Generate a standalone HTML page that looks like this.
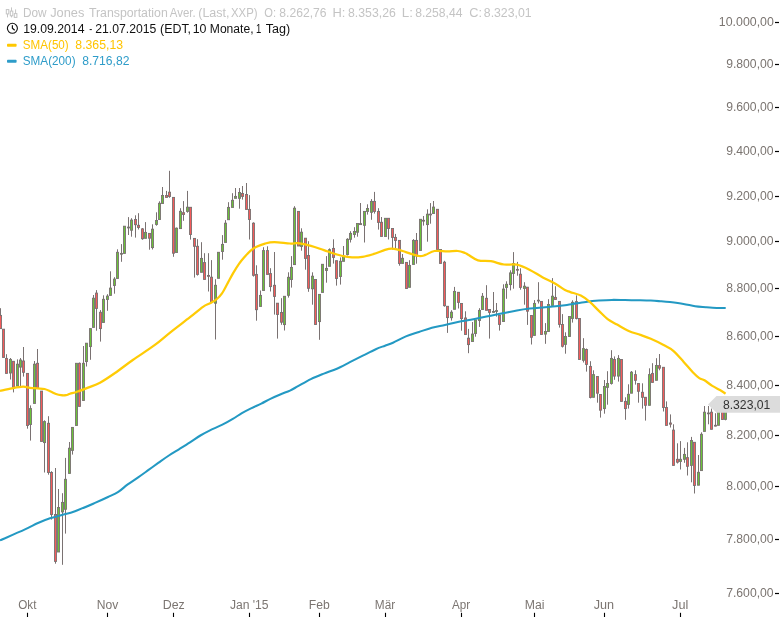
<!DOCTYPE html>
<html><head><meta charset="utf-8"><title>Dow Jones Transportation Aver.</title>
<style>
html,body{margin:0;padding:0;background:#fff;}
body{width:780px;height:617px;overflow:hidden;position:relative;font-family:"Liberation Sans",sans-serif;}
svg{position:absolute;left:0;top:0;}
text{font-family:"Liberation Sans",sans-serif;font-size:12.3px;}
.ax{fill:#7b7571;}
</style></head><body>
<svg width="780" height="617" viewBox="0 0 780 617" style="will-change:transform">
<defs><filter id="ga" filterUnits="userSpaceOnUse" x="0" y="0" width="780" height="617"><feOffset dx="0" dy="0"/></filter></defs>

<g stroke="#7a7272" stroke-width="1" shape-rendering="auto">
<path d="M0.50 308.2V328.6" fill="none"/>
<path d="M3.50 329.2V357.4" fill="none"/>
<path d="M6.50 354.2V373.4" fill="none"/>
<path d="M10.50 358.0V379.5" fill="none"/>
<path d="M13.50 361.3V392.4" fill="none"/>
<path d="M17.50 359.4V386.0" fill="none"/>
<path d="M20.50 358.0V386.0" fill="none"/>
<path d="M23.50 347.0V376.6" fill="none"/>
<path d="M27.50 373.4V428.7" fill="none"/>
<path d="M30.50 405.4V440.6" fill="none"/>
<path d="M34.50 361.0V403.4" fill="none"/>
<path d="M37.50 349.0V387.9" fill="none"/>
<path d="M41.50 391.1V441.4" fill="none"/>
<path d="M44.50 420.3V472.5" fill="none"/>
<path d="M48.50 416.2V474.7" fill="none"/>
<path d="M51.50 471.2V519.6" fill="none"/>
<path d="M55.50 468.0V563.7" fill="none"/>
<path d="M58.50 489.0V552.0" fill="none"/>
<path d="M62.50 493.2V564.8" fill="none"/>
<path d="M65.50 457.9V533.6" fill="none"/>
<path d="M69.50 442.0V473.4" fill="none"/>
<path d="M72.50 427.0V454.6" fill="none"/>
<path d="M76.50 363.3V425.5" fill="none"/>
<path d="M79.50 362.5V406.4" fill="none"/>
<path d="M83.50 346.0V400.5" fill="none"/>
<path d="M86.50 343.2V366.5" fill="none"/>
<path d="M90.50 328.6V359.8" fill="none"/>
<path d="M93.50 295.0V327.4" fill="none"/>
<path d="M96.50 290.1V330.7" fill="none"/>
<path d="M100.50 310.1V341.6" fill="none"/>
<path d="M103.50 295.3V322.5" fill="none"/>
<path d="M107.50 294.2V310.8" fill="none"/>
<path d="M110.50 271.3V295.4" fill="none"/>
<path d="M114.50 277.2V293.7" fill="none"/>
<path d="M117.50 249.3V278.5" fill="none"/>
<path d="M121.50 244.1V261.8" fill="none"/>
<path d="M124.50 226.2V253.4" fill="none"/>
<path d="M128.50 217.1V235.0" fill="none"/>
<path d="M131.50 218.2V236.7" fill="none"/>
<path d="M135.50 215.3V237.6" fill="none"/>
<path d="M138.50 213.2V229.5" fill="none"/>
<path d="M142.50 228.0V239.8" fill="none"/>
<path d="M145.50 222.1V238.3" fill="none"/>
<path d="M149.50 233.4V249.7" fill="none"/>
<path d="M152.50 224.3V249.5" fill="none"/>
<path d="M156.50 212.3V225.7" fill="none"/>
<path d="M159.50 201.3V219.5" fill="none"/>
<path d="M162.50 187.0V203.5" fill="none"/>
<path d="M166.50 190.9V197.4" fill="none"/>
<path d="M169.50 170.8V197.8" fill="none"/>
<path d="M173.50 197.4V256.8" fill="none"/>
<path d="M176.50 227.5V252.5" fill="none"/>
<path d="M180.50 208.2V228.6" fill="none"/>
<path d="M183.50 201.1V220.8" fill="none"/>
<path d="M187.50 190.9V212.7" fill="none"/>
<path d="M190.50 207.3V239.6" fill="none"/>
<path d="M194.50 238.3V277.6" fill="none"/>
<path d="M197.50 239.2V275.6" fill="none"/>
<path d="M201.50 242.2V272.3" fill="none"/>
<path d="M204.50 253.2V279.4" fill="none"/>
<path d="M208.50 253.2V291.5" fill="none"/>
<path d="M211.50 260.1V301.9" fill="none"/>
<path d="M215.50 279.2V339.5" fill="none"/>
<path d="M218.50 252.3V278.3" fill="none"/>
<path d="M222.50 235.1V259.7" fill="none"/>
<path d="M225.50 220.1V242.4" fill="none"/>
<path d="M228.50 202.2V219.7" fill="none"/>
<path d="M232.50 193.2V207.4" fill="none"/>
<path d="M235.50 188.0V198.3" fill="none"/>
<path d="M239.50 188.0V208.7" fill="none"/>
<path d="M242.50 186.0V199.6" fill="none"/>
<path d="M246.50 183.0V209.4" fill="none"/>
<path d="M249.50 195.1V239.5" fill="none"/>
<path d="M253.50 222.3V276.6" fill="none"/>
<path d="M256.50 265.3V320.7" fill="none"/>
<path d="M260.50 290.5V306.4" fill="none"/>
<path d="M263.50 247.2V290.5" fill="none"/>
<path d="M267.50 246.3V274.4" fill="none"/>
<path d="M270.50 268.2V291.5" fill="none"/>
<path d="M274.50 252.0V314.6" fill="none"/>
<path d="M277.50 303.2V338.6" fill="none"/>
<path d="M281.50 298.2V324.8" fill="none"/>
<path d="M284.50 296.3V330.5" fill="none"/>
<path d="M288.50 272.3V297.6" fill="none"/>
<path d="M291.50 256.1V287.6" fill="none"/>
<path d="M294.50 206.2V264.6" fill="none"/>
<path d="M298.50 211.4V246.0" fill="none"/>
<path d="M301.50 228.3V250.7" fill="none"/>
<path d="M305.50 238.2V269.7" fill="none"/>
<path d="M308.50 241.2V291.8" fill="none"/>
<path d="M312.50 272.3V304.7" fill="none"/>
<path d="M315.50 279.5V324.5" fill="none"/>
<path d="M319.50 294.4V339.8" fill="none"/>
<path d="M322.50 264.3V292.4" fill="none"/>
<path d="M326.50 256.1V282.7" fill="none"/>
<path d="M329.50 248.4V266.3" fill="none"/>
<path d="M333.50 239.3V263.6" fill="none"/>
<path d="M336.50 260.7V285.6" fill="none"/>
<path d="M340.50 257.4V284.6" fill="none"/>
<path d="M343.50 246.0V261.3" fill="none"/>
<path d="M347.50 238.2V255.5" fill="none"/>
<path d="M350.50 231.2V242.5" fill="none"/>
<path d="M354.50 227.2V237.7" fill="none"/>
<path d="M357.50 223.5V236.7" fill="none"/>
<path d="M360.50 203.0V224.6" fill="none"/>
<path d="M364.50 211.4V242.5" fill="none"/>
<path d="M367.50 204.3V214.6" fill="none"/>
<path d="M371.50 199.1V219.8" fill="none"/>
<path d="M374.50 191.9V213.6" fill="none"/>
<path d="M378.50 208.2V229.6" fill="none"/>
<path d="M381.50 217.0V236.4" fill="none"/>
<path d="M385.50 218.3V236.5" fill="none"/>
<path d="M388.50 218.3V239.5" fill="none"/>
<path d="M392.50 228.5V249.5" fill="none"/>
<path d="M395.50 233.9V248.2" fill="none"/>
<path d="M399.50 240.4V265.7" fill="none"/>
<path d="M402.50 254.0V263.4" fill="none"/>
<path d="M406.50 262.4V288.5" fill="none"/>
<path d="M409.50 260.2V287.3" fill="none"/>
<path d="M413.50 239.1V264.4" fill="none"/>
<path d="M416.50 233.0V263.7" fill="none"/>
<path d="M420.50 219.3V250.4" fill="none"/>
<path d="M423.50 216.0V225.6" fill="none"/>
<path d="M427.50 209.3V241.7" fill="none"/>
<path d="M430.50 203.1V223.7" fill="none"/>
<path d="M433.50 201.0V213.5" fill="none"/>
<path d="M437.50 209.3V249.5" fill="none"/>
<path d="M440.50 249.5V263.4" fill="none"/>
<path d="M444.50 260.8V306.7" fill="none"/>
<path d="M447.50 306.3V332.9" fill="none"/>
<path d="M451.50 310.2V320.6" fill="none"/>
<path d="M454.50 286.9V309.3" fill="none"/>
<path d="M458.50 292.3V308.5" fill="none"/>
<path d="M461.50 303.5V330.7" fill="none"/>
<path d="M465.50 311.3V334.5" fill="none"/>
<path d="M468.50 328.9V353.2" fill="none"/>
<path d="M472.50 322.0V341.5" fill="none"/>
<path d="M475.50 320.0V336.7" fill="none"/>
<path d="M479.50 308.2V326.9" fill="none"/>
<path d="M482.50 293.0V309.5" fill="none"/>
<path d="M486.50 285.2V310.3" fill="none"/>
<path d="M489.50 309.5V338.6" fill="none"/>
<path d="M493.50 292.0V312.7" fill="none"/>
<path d="M496.50 303.0V316.6" fill="none"/>
<path d="M499.50 315.0V330.6" fill="none"/>
<path d="M503.50 284.3V321.5" fill="none"/>
<path d="M506.50 281.3V298.8" fill="none"/>
<path d="M510.50 270.3V290.4" fill="none"/>
<path d="M513.50 252.1V288.7" fill="none"/>
<path d="M517.50 261.9V275.7" fill="none"/>
<path d="M520.50 268.3V289.7" fill="none"/>
<path d="M524.50 282.2V304.7" fill="none"/>
<path d="M527.50 287.2V324.9" fill="none"/>
<path d="M531.50 315.5V344.5" fill="none"/>
<path d="M534.50 300.1V335.4" fill="none"/>
<path d="M538.50 282.2V303.5" fill="none"/>
<path d="M541.50 301.4V334.5" fill="none"/>
<path d="M545.50 323.1V343.8" fill="none"/>
<path d="M548.50 299.2V331.5" fill="none"/>
<path d="M552.50 278.1V305.4" fill="none"/>
<path d="M555.50 286.2V299.5" fill="none"/>
<path d="M559.50 301.3V327.6" fill="none"/>
<path d="M562.50 314.1V347.5" fill="none"/>
<path d="M565.50 332.3V353.7" fill="none"/>
<path d="M569.50 316.5V336.5" fill="none"/>
<path d="M572.50 300.3V322.6" fill="none"/>
<path d="M576.50 295.4V319.4" fill="none"/>
<path d="M579.50 318.5V359.5" fill="none"/>
<path d="M583.50 338.2V362.5" fill="none"/>
<path d="M586.50 348.5V371.6" fill="none"/>
<path d="M590.50 361.2V398.4" fill="none"/>
<path d="M593.50 370.3V397.3" fill="none"/>
<path d="M597.50 376.5V402.7" fill="none"/>
<path d="M600.50 394.5V417.6" fill="none"/>
<path d="M604.50 380.0V413.7" fill="none"/>
<path d="M607.50 371.2V404.7" fill="none"/>
<path d="M611.50 350.2V384.6" fill="none"/>
<path d="M614.50 356.4V379.8" fill="none"/>
<path d="M618.50 355.1V381.6" fill="none"/>
<path d="M621.50 359.5V401.4" fill="none"/>
<path d="M625.50 397.3V419.8" fill="none"/>
<path d="M628.50 384.3V408.6" fill="none"/>
<path d="M631.50 371.0V393.2" fill="none"/>
<path d="M635.50 370.3V384.6" fill="none"/>
<path d="M638.50 383.5V402.7" fill="none"/>
<path d="M642.50 383.3V408.6" fill="none"/>
<path d="M645.50 397.3V420.6" fill="none"/>
<path d="M649.50 368.3V405.3" fill="none"/>
<path d="M652.50 363.2V382.4" fill="none"/>
<path d="M656.50 358.2V380.3" fill="none"/>
<path d="M659.50 354.0V370.3" fill="none"/>
<path d="M663.50 367.3V411.5" fill="none"/>
<path d="M666.50 401.4V425.4" fill="none"/>
<path d="M670.50 414.4V427.5" fill="none"/>
<path d="M673.50 424.3V465.4" fill="none"/>
<path d="M677.50 443.3V463.5" fill="none"/>
<path d="M680.50 441.1V469.5" fill="none"/>
<path d="M684.50 447.9V462.8" fill="none"/>
<path d="M687.50 442.3V475.5" fill="none"/>
<path d="M691.50 436.9V482.3" fill="none"/>
<path d="M694.50 442.3V493.5" fill="none"/>
<path d="M698.50 455.0V485.2" fill="none"/>
<path d="M701.50 432.3V470.6" fill="none"/>
<path d="M704.50 406.0V431.4" fill="none"/>
<path d="M708.50 406.0V424.3" fill="none"/>
<path d="M711.50 408.6V429.3" fill="none"/>
<path d="M715.50 413.2V426.4" fill="none"/>
<path d="M718.50 406.0V425.3" fill="none"/>
<path d="M722.50 400.0V419.5" fill="none"/>
<path d="M725.50 396.5V420.3" fill="none"/>
<rect x="-0.55" y="315.4" width="2.1" height="13.2" fill="#f45b5b" stroke-width="0.9"/>
<rect x="2.45" y="329.2" width="2.1" height="28.2" fill="#f45b5b" stroke-width="0.9"/>
<rect x="5.45" y="358.4" width="2.1" height="15.0" fill="#f45b5b" stroke-width="0.9"/>
<rect x="9.45" y="359.4" width="2.1" height="13.6" fill="#6bc23a" stroke-width="0.9"/>
<rect x="12.45" y="361.3" width="2.1" height="25.9" fill="#f45b5b" stroke-width="0.9"/>
<rect x="16.45" y="364.2" width="2.1" height="21.8" fill="#6bc23a" stroke-width="0.9"/>
<rect x="19.45" y="360.0" width="2.1" height="7.1" fill="#6bc23a" stroke-width="0.9"/>
<rect x="22.45" y="361.0" width="2.1" height="11.3" fill="#f45b5b" stroke-width="0.9"/>
<rect x="26.45" y="373.4" width="2.1" height="52.1" fill="#f45b5b" stroke-width="0.9"/>
<rect x="29.45" y="408.6" width="2.1" height="15.9" fill="#6bc23a" stroke-width="0.9"/>
<rect x="33.45" y="364.2" width="2.1" height="39.2" fill="#6bc23a" stroke-width="0.9"/>
<rect x="36.45" y="363.3" width="2.1" height="24.6" fill="#f45b5b" stroke-width="0.9"/>
<rect x="40.45" y="391.1" width="2.1" height="50.3" fill="#f45b5b" stroke-width="0.9"/>
<rect x="43.45" y="421.6" width="2.1" height="21.0" fill="#6bc23a" stroke-width="0.9"/>
<rect x="47.45" y="423.3" width="2.1" height="49.2" fill="#f45b5b" stroke-width="0.9"/>
<rect x="50.45" y="472.5" width="2.1" height="42.0" fill="#f45b5b" stroke-width="0.9"/>
<rect x="54.45" y="514.5" width="2.1" height="46.9" fill="#f45b5b" stroke-width="0.9"/>
<rect x="57.45" y="507.5" width="2.1" height="44.5" fill="#6bc23a" stroke-width="0.9"/>
<rect x="61.45" y="502.4" width="2.1" height="9.5" fill="#6bc23a" stroke-width="0.9"/>
<rect x="64.45" y="479.3" width="2.1" height="30.0" fill="#6bc23a" stroke-width="0.9"/>
<rect x="68.45" y="448.2" width="2.1" height="25.2" fill="#6bc23a" stroke-width="0.9"/>
<rect x="71.45" y="427.4" width="2.1" height="23.0" fill="#6bc23a" stroke-width="0.9"/>
<rect x="75.45" y="363.3" width="2.1" height="62.2" fill="#6bc23a" stroke-width="0.9"/>
<rect x="78.45" y="363.3" width="2.1" height="43.1" fill="#f45b5b" stroke-width="0.9"/>
<rect x="82.45" y="363.3" width="2.1" height="37.2" fill="#6bc23a" stroke-width="0.9"/>
<rect x="85.45" y="343.2" width="2.1" height="18.4" fill="#6bc23a" stroke-width="0.9"/>
<rect x="89.45" y="328.6" width="2.1" height="18.0" fill="#6bc23a" stroke-width="0.9"/>
<rect x="92.45" y="298.2" width="2.1" height="29.2" fill="#6bc23a" stroke-width="0.9"/>
<rect x="95.45" y="293.1" width="2.1" height="15.4" fill="#f45b5b" stroke-width="0.9"/>
<rect x="99.45" y="312.3" width="2.1" height="16.3" fill="#f45b5b" stroke-width="0.9"/>
<rect x="102.45" y="299.3" width="2.1" height="23.2" fill="#6bc23a" stroke-width="0.9"/>
<rect x="106.45" y="296.1" width="2.1" height="3.4" fill="#6bc23a" stroke-width="0.9"/>
<rect x="109.45" y="288.1" width="2.1" height="7.3" fill="#6bc23a" stroke-width="0.9"/>
<rect x="113.45" y="279.1" width="2.1" height="6.4" fill="#6bc23a" stroke-width="0.9"/>
<rect x="116.45" y="252.3" width="2.1" height="26.2" fill="#6bc23a" stroke-width="0.9"/>
<rect x="120.45" y="253.4" width="2.1" height="0.8" fill="#6bc23a" stroke-width="0.9"/>
<rect x="123.45" y="226.2" width="2.1" height="27.2" fill="#6bc23a" stroke-width="0.9"/>
<rect x="127.45" y="227.1" width="2.1" height="0.8" fill="#6bc23a" stroke-width="0.9"/>
<rect x="130.45" y="220.1" width="2.1" height="10.1" fill="#6bc23a" stroke-width="0.9"/>
<rect x="134.45" y="219.5" width="2.1" height="5.2" fill="#f45b5b" stroke-width="0.9"/>
<rect x="137.45" y="225.3" width="2.1" height="2.2" fill="#f45b5b" stroke-width="0.9"/>
<rect x="141.45" y="228.9" width="2.1" height="9.8" fill="#f45b5b" stroke-width="0.9"/>
<rect x="144.45" y="232.4" width="2.1" height="5.9" fill="#6bc23a" stroke-width="0.9"/>
<rect x="148.45" y="233.4" width="2.1" height="4.8" fill="#f45b5b" stroke-width="0.9"/>
<rect x="151.45" y="229.2" width="2.1" height="18.4" fill="#6bc23a" stroke-width="0.9"/>
<rect x="155.45" y="220.5" width="2.1" height="3.9" fill="#6bc23a" stroke-width="0.9"/>
<rect x="158.45" y="203.3" width="2.1" height="16.2" fill="#6bc23a" stroke-width="0.9"/>
<rect x="161.45" y="195.5" width="2.1" height="8.0" fill="#6bc23a" stroke-width="0.9"/>
<rect x="165.45" y="195.5" width="2.1" height="1.9" fill="#f45b5b" stroke-width="0.9"/>
<rect x="168.45" y="192.2" width="2.1" height="4.3" fill="#f45b5b" stroke-width="0.9"/>
<rect x="172.45" y="197.4" width="2.1" height="55.8" fill="#f45b5b" stroke-width="0.9"/>
<rect x="175.45" y="228.2" width="2.1" height="24.3" fill="#6bc23a" stroke-width="0.9"/>
<rect x="179.45" y="211.3" width="2.1" height="17.3" fill="#6bc23a" stroke-width="0.9"/>
<rect x="182.45" y="212.7" width="2.1" height="1.8" fill="#f45b5b" stroke-width="0.9"/>
<rect x="186.45" y="207.2" width="2.1" height="4.2" fill="#6bc23a" stroke-width="0.9"/>
<rect x="189.45" y="207.3" width="2.1" height="27.2" fill="#f45b5b" stroke-width="0.9"/>
<rect x="193.45" y="238.4" width="2.1" height="7.9" fill="#f45b5b" stroke-width="0.9"/>
<rect x="196.45" y="246.3" width="2.1" height="28.1" fill="#f45b5b" stroke-width="0.9"/>
<rect x="200.45" y="258.4" width="2.1" height="13.9" fill="#6bc23a" stroke-width="0.9"/>
<rect x="203.45" y="262.6" width="2.1" height="16.8" fill="#f45b5b" stroke-width="0.9"/>
<rect x="207.45" y="275.5" width="2.1" height="0.8" fill="#f45b5b" stroke-width="0.9"/>
<rect x="210.45" y="277.2" width="2.1" height="24.7" fill="#f45b5b" stroke-width="0.9"/>
<rect x="214.45" y="285.3" width="2.1" height="17.9" fill="#6bc23a" stroke-width="0.9"/>
<rect x="217.45" y="252.3" width="2.1" height="26.0" fill="#6bc23a" stroke-width="0.9"/>
<rect x="221.45" y="244.4" width="2.1" height="7.1" fill="#6bc23a" stroke-width="0.9"/>
<rect x="224.45" y="223.2" width="2.1" height="19.2" fill="#6bc23a" stroke-width="0.9"/>
<rect x="227.45" y="207.4" width="2.1" height="12.3" fill="#6bc23a" stroke-width="0.9"/>
<rect x="231.45" y="200.3" width="2.1" height="7.1" fill="#6bc23a" stroke-width="0.9"/>
<rect x="234.45" y="196.4" width="2.1" height="1.9" fill="#6bc23a" stroke-width="0.9"/>
<rect x="238.45" y="192.5" width="2.1" height="5.8" fill="#6bc23a" stroke-width="0.9"/>
<rect x="241.45" y="193.5" width="2.1" height="2.9" fill="#f45b5b" stroke-width="0.9"/>
<rect x="245.45" y="194.5" width="2.1" height="14.9" fill="#f45b5b" stroke-width="0.9"/>
<rect x="248.45" y="209.4" width="2.1" height="10.1" fill="#f45b5b" stroke-width="0.9"/>
<rect x="252.45" y="223.2" width="2.1" height="52.1" fill="#f45b5b" stroke-width="0.9"/>
<rect x="255.45" y="274.4" width="2.1" height="35.3" fill="#f45b5b" stroke-width="0.9"/>
<rect x="259.45" y="295.4" width="2.1" height="11.0" fill="#6bc23a" stroke-width="0.9"/>
<rect x="262.45" y="250.6" width="2.1" height="39.9" fill="#6bc23a" stroke-width="0.9"/>
<rect x="266.45" y="250.6" width="2.1" height="23.8" fill="#f45b5b" stroke-width="0.9"/>
<rect x="269.45" y="273.6" width="2.1" height="13.0" fill="#f45b5b" stroke-width="0.9"/>
<rect x="273.45" y="285.3" width="2.1" height="11.1" fill="#f45b5b" stroke-width="0.9"/>
<rect x="276.45" y="303.2" width="2.1" height="11.3" fill="#f45b5b" stroke-width="0.9"/>
<rect x="280.45" y="312.5" width="2.1" height="9.7" fill="#f45b5b" stroke-width="0.9"/>
<rect x="283.45" y="296.3" width="2.1" height="28.3" fill="#6bc23a" stroke-width="0.9"/>
<rect x="287.45" y="277.3" width="2.1" height="18.0" fill="#6bc23a" stroke-width="0.9"/>
<rect x="290.45" y="267.4" width="2.1" height="12.1" fill="#6bc23a" stroke-width="0.9"/>
<rect x="293.45" y="208.2" width="2.1" height="56.4" fill="#6bc23a" stroke-width="0.9"/>
<rect x="297.45" y="211.4" width="2.1" height="34.6" fill="#f45b5b" stroke-width="0.9"/>
<rect x="300.45" y="232.2" width="2.1" height="14.2" fill="#6bc23a" stroke-width="0.9"/>
<rect x="304.45" y="238.2" width="2.1" height="20.2" fill="#f45b5b" stroke-width="0.9"/>
<rect x="307.45" y="255.5" width="2.1" height="32.8" fill="#f45b5b" stroke-width="0.9"/>
<rect x="311.45" y="276.2" width="2.1" height="12.6" fill="#6bc23a" stroke-width="0.9"/>
<rect x="314.45" y="279.5" width="2.1" height="45.0" fill="#f45b5b" stroke-width="0.9"/>
<rect x="318.45" y="294.4" width="2.1" height="27.2" fill="#6bc23a" stroke-width="0.9"/>
<rect x="321.45" y="264.3" width="2.1" height="28.1" fill="#6bc23a" stroke-width="0.9"/>
<rect x="325.45" y="268.4" width="2.1" height="2.0" fill="#6bc23a" stroke-width="0.9"/>
<rect x="328.45" y="249.7" width="2.1" height="16.6" fill="#6bc23a" stroke-width="0.9"/>
<rect x="332.45" y="248.4" width="2.1" height="9.0" fill="#f45b5b" stroke-width="0.9"/>
<rect x="335.45" y="260.7" width="2.1" height="17.8" fill="#f45b5b" stroke-width="0.9"/>
<rect x="339.45" y="261.3" width="2.1" height="15.2" fill="#6bc23a" stroke-width="0.9"/>
<rect x="342.45" y="256.1" width="2.1" height="5.2" fill="#6bc23a" stroke-width="0.9"/>
<rect x="346.45" y="239.3" width="2.1" height="15.2" fill="#6bc23a" stroke-width="0.9"/>
<rect x="349.45" y="233.4" width="2.1" height="5.9" fill="#6bc23a" stroke-width="0.9"/>
<rect x="353.45" y="231.5" width="2.1" height="3.0" fill="#6bc23a" stroke-width="0.9"/>
<rect x="356.45" y="223.5" width="2.1" height="8.7" fill="#6bc23a" stroke-width="0.9"/>
<rect x="359.45" y="223.6" width="2.1" height="1.0" fill="#6bc23a" stroke-width="0.9"/>
<rect x="363.45" y="211.4" width="2.1" height="13.9" fill="#6bc23a" stroke-width="0.9"/>
<rect x="366.45" y="208.5" width="2.1" height="2.9" fill="#6bc23a" stroke-width="0.9"/>
<rect x="370.45" y="201.4" width="2.1" height="10.9" fill="#6bc23a" stroke-width="0.9"/>
<rect x="373.45" y="201.4" width="2.1" height="10.0" fill="#f45b5b" stroke-width="0.9"/>
<rect x="377.45" y="211.4" width="2.1" height="11.0" fill="#f45b5b" stroke-width="0.9"/>
<rect x="380.45" y="222.3" width="2.1" height="14.1" fill="#f45b5b" stroke-width="0.9"/>
<rect x="384.45" y="218.3" width="2.1" height="18.2" fill="#6bc23a" stroke-width="0.9"/>
<rect x="387.45" y="218.3" width="2.1" height="10.2" fill="#f45b5b" stroke-width="0.9"/>
<rect x="391.45" y="228.5" width="2.1" height="8.9" fill="#f45b5b" stroke-width="0.9"/>
<rect x="394.45" y="237.4" width="2.1" height="3.0" fill="#f45b5b" stroke-width="0.9"/>
<rect x="398.45" y="240.4" width="2.1" height="23.1" fill="#f45b5b" stroke-width="0.9"/>
<rect x="401.45" y="258.3" width="2.1" height="5.1" fill="#6bc23a" stroke-width="0.9"/>
<rect x="405.45" y="262.4" width="2.1" height="26.1" fill="#f45b5b" stroke-width="0.9"/>
<rect x="408.45" y="265.4" width="2.1" height="21.9" fill="#6bc23a" stroke-width="0.9"/>
<rect x="412.45" y="240.4" width="2.1" height="24.0" fill="#6bc23a" stroke-width="0.9"/>
<rect x="415.45" y="240.4" width="2.1" height="15.6" fill="#f45b5b" stroke-width="0.9"/>
<rect x="419.45" y="219.3" width="2.1" height="31.1" fill="#6bc23a" stroke-width="0.9"/>
<rect x="422.45" y="220.3" width="2.1" height="0.8" fill="#6bc23a" stroke-width="0.9"/>
<rect x="426.45" y="214.2" width="2.1" height="10.4" fill="#6bc23a" stroke-width="0.9"/>
<rect x="429.45" y="214.1" width="2.1" height="0.8" fill="#6bc23a" stroke-width="0.9"/>
<rect x="432.45" y="207.1" width="2.1" height="6.4" fill="#6bc23a" stroke-width="0.9"/>
<rect x="436.45" y="209.3" width="2.1" height="40.2" fill="#f45b5b" stroke-width="0.9"/>
<rect x="439.45" y="249.5" width="2.1" height="13.9" fill="#f45b5b" stroke-width="0.9"/>
<rect x="443.45" y="262.2" width="2.1" height="43.5" fill="#f45b5b" stroke-width="0.9"/>
<rect x="446.45" y="306.3" width="2.1" height="11.3" fill="#f45b5b" stroke-width="0.9"/>
<rect x="450.45" y="312.2" width="2.1" height="5.5" fill="#6bc23a" stroke-width="0.9"/>
<rect x="453.45" y="291.4" width="2.1" height="17.9" fill="#6bc23a" stroke-width="0.9"/>
<rect x="457.45" y="292.3" width="2.1" height="10.1" fill="#f45b5b" stroke-width="0.9"/>
<rect x="460.45" y="303.5" width="2.1" height="15.1" fill="#f45b5b" stroke-width="0.9"/>
<rect x="464.45" y="318.0" width="2.1" height="16.5" fill="#f45b5b" stroke-width="0.9"/>
<rect x="467.45" y="338.2" width="2.1" height="6.4" fill="#f45b5b" stroke-width="0.9"/>
<rect x="471.45" y="334.1" width="2.1" height="7.4" fill="#6bc23a" stroke-width="0.9"/>
<rect x="474.45" y="320.0" width="2.1" height="13.5" fill="#6bc23a" stroke-width="0.9"/>
<rect x="478.45" y="310.4" width="2.1" height="10.1" fill="#6bc23a" stroke-width="0.9"/>
<rect x="481.45" y="296.3" width="2.1" height="13.2" fill="#6bc23a" stroke-width="0.9"/>
<rect x="485.45" y="298.3" width="2.1" height="12.0" fill="#f45b5b" stroke-width="0.9"/>
<rect x="488.45" y="309.5" width="2.1" height="2.9" fill="#f45b5b" stroke-width="0.9"/>
<rect x="492.45" y="311.5" width="2.1" height="0.8" fill="#6bc23a" stroke-width="0.9"/>
<rect x="495.45" y="310.6" width="2.1" height="0.8" fill="#6bc23a" stroke-width="0.9"/>
<rect x="498.45" y="315.3" width="2.1" height="9.1" fill="#f45b5b" stroke-width="0.9"/>
<rect x="502.45" y="289.1" width="2.1" height="32.4" fill="#6bc23a" stroke-width="0.9"/>
<rect x="505.45" y="284.3" width="2.1" height="3.1" fill="#6bc23a" stroke-width="0.9"/>
<rect x="509.45" y="272.9" width="2.1" height="11.7" fill="#6bc23a" stroke-width="0.9"/>
<rect x="512.45" y="263.5" width="2.1" height="10.0" fill="#6bc23a" stroke-width="0.9"/>
<rect x="516.45" y="269.4" width="2.1" height="0.8" fill="#f45b5b" stroke-width="0.9"/>
<rect x="519.45" y="274.2" width="2.1" height="13.2" fill="#f45b5b" stroke-width="0.9"/>
<rect x="523.45" y="286.2" width="2.1" height="2.2" fill="#6bc23a" stroke-width="0.9"/>
<rect x="526.45" y="287.2" width="2.1" height="24.0" fill="#f45b5b" stroke-width="0.9"/>
<rect x="530.45" y="315.5" width="2.1" height="21.8" fill="#f45b5b" stroke-width="0.9"/>
<rect x="533.45" y="303.4" width="2.1" height="32.0" fill="#6bc23a" stroke-width="0.9"/>
<rect x="537.45" y="300.2" width="2.1" height="0.8" fill="#6bc23a" stroke-width="0.9"/>
<rect x="540.45" y="301.4" width="2.1" height="33.1" fill="#f45b5b" stroke-width="0.9"/>
<rect x="544.45" y="331.5" width="2.1" height="2.6" fill="#6bc23a" stroke-width="0.9"/>
<rect x="547.45" y="304.5" width="2.1" height="27.0" fill="#6bc23a" stroke-width="0.9"/>
<rect x="551.45" y="296.2" width="2.1" height="9.2" fill="#6bc23a" stroke-width="0.9"/>
<rect x="554.45" y="297.4" width="2.1" height="2.1" fill="#f45b5b" stroke-width="0.9"/>
<rect x="558.45" y="301.4" width="2.1" height="23.0" fill="#f45b5b" stroke-width="0.9"/>
<rect x="561.45" y="324.5" width="2.1" height="21.8" fill="#f45b5b" stroke-width="0.9"/>
<rect x="564.45" y="336.5" width="2.1" height="7.9" fill="#6bc23a" stroke-width="0.9"/>
<rect x="568.45" y="316.5" width="2.1" height="20.0" fill="#6bc23a" stroke-width="0.9"/>
<rect x="571.45" y="302.3" width="2.1" height="16.2" fill="#6bc23a" stroke-width="0.9"/>
<rect x="575.45" y="301.6" width="2.1" height="16.9" fill="#f45b5b" stroke-width="0.9"/>
<rect x="578.45" y="318.5" width="2.1" height="41.0" fill="#f45b5b" stroke-width="0.9"/>
<rect x="582.45" y="348.6" width="2.1" height="11.7" fill="#6bc23a" stroke-width="0.9"/>
<rect x="585.45" y="349.5" width="2.1" height="15.0" fill="#f45b5b" stroke-width="0.9"/>
<rect x="589.45" y="366.4" width="2.1" height="31.1" fill="#f45b5b" stroke-width="0.9"/>
<rect x="592.45" y="374.6" width="2.1" height="22.7" fill="#6bc23a" stroke-width="0.9"/>
<rect x="596.45" y="376.5" width="2.1" height="16.7" fill="#f45b5b" stroke-width="0.9"/>
<rect x="599.45" y="394.5" width="2.1" height="15.7" fill="#f45b5b" stroke-width="0.9"/>
<rect x="603.45" y="386.5" width="2.1" height="22.1" fill="#6bc23a" stroke-width="0.9"/>
<rect x="606.45" y="383.5" width="2.1" height="3.9" fill="#6bc23a" stroke-width="0.9"/>
<rect x="610.45" y="358.4" width="2.1" height="25.1" fill="#6bc23a" stroke-width="0.9"/>
<rect x="613.45" y="359.5" width="2.1" height="16.6" fill="#f45b5b" stroke-width="0.9"/>
<rect x="617.45" y="358.4" width="2.1" height="17.7" fill="#6bc23a" stroke-width="0.9"/>
<rect x="620.45" y="359.5" width="2.1" height="41.9" fill="#f45b5b" stroke-width="0.9"/>
<rect x="624.45" y="401.4" width="2.1" height="7.2" fill="#f45b5b" stroke-width="0.9"/>
<rect x="627.45" y="394.3" width="2.1" height="10.1" fill="#6bc23a" stroke-width="0.9"/>
<rect x="630.45" y="372.2" width="2.1" height="21.0" fill="#6bc23a" stroke-width="0.9"/>
<rect x="634.45" y="374.6" width="2.1" height="5.7" fill="#f45b5b" stroke-width="0.9"/>
<rect x="637.45" y="383.5" width="2.1" height="7.8" fill="#f45b5b" stroke-width="0.9"/>
<rect x="641.45" y="392.3" width="2.1" height="5.0" fill="#f45b5b" stroke-width="0.9"/>
<rect x="644.45" y="397.3" width="2.1" height="8.0" fill="#f45b5b" stroke-width="0.9"/>
<rect x="648.45" y="374.6" width="2.1" height="30.7" fill="#6bc23a" stroke-width="0.9"/>
<rect x="651.45" y="373.4" width="2.1" height="9.0" fill="#f45b5b" stroke-width="0.9"/>
<rect x="655.45" y="365.5" width="2.1" height="14.8" fill="#6bc23a" stroke-width="0.9"/>
<rect x="658.45" y="365.6" width="2.1" height="2.6" fill="#f45b5b" stroke-width="0.9"/>
<rect x="662.45" y="367.3" width="2.1" height="40.2" fill="#f45b5b" stroke-width="0.9"/>
<rect x="665.45" y="407.5" width="2.1" height="17.9" fill="#f45b5b" stroke-width="0.9"/>
<rect x="669.45" y="423.0" width="2.1" height="1.2" fill="#f45b5b" stroke-width="0.9"/>
<rect x="672.45" y="430.1" width="2.1" height="35.3" fill="#f45b5b" stroke-width="0.9"/>
<rect x="676.45" y="459.3" width="2.1" height="2.9" fill="#f45b5b" stroke-width="0.9"/>
<rect x="679.45" y="459.3" width="2.1" height="2.2" fill="#6bc23a" stroke-width="0.9"/>
<rect x="683.45" y="454.4" width="2.1" height="4.9" fill="#6bc23a" stroke-width="0.9"/>
<rect x="686.45" y="457.6" width="2.1" height="8.7" fill="#f45b5b" stroke-width="0.9"/>
<rect x="690.45" y="440.5" width="2.1" height="24.9" fill="#6bc23a" stroke-width="0.9"/>
<rect x="693.45" y="442.3" width="2.1" height="43.2" fill="#f45b5b" stroke-width="0.9"/>
<rect x="697.45" y="472.3" width="2.1" height="12.9" fill="#6bc23a" stroke-width="0.9"/>
<rect x="700.45" y="434.3" width="2.1" height="36.3" fill="#6bc23a" stroke-width="0.9"/>
<rect x="703.45" y="412.2" width="2.1" height="19.2" fill="#6bc23a" stroke-width="0.9"/>
<rect x="707.45" y="413.0" width="2.1" height="0.8" fill="#6bc23a" stroke-width="0.9"/>
<rect x="710.45" y="412.2" width="2.1" height="17.1" fill="#f45b5b" stroke-width="0.9"/>
<rect x="714.45" y="425.3" width="2.1" height="0.8" fill="#f45b5b" stroke-width="0.9"/>
<rect x="717.45" y="409.0" width="2.1" height="16.3" fill="#6bc23a" stroke-width="0.9"/>
<rect x="721.45" y="405.0" width="2.1" height="14.5" fill="#f45b5b" stroke-width="0.9"/>
<rect x="724.45" y="404.4" width="2.1" height="15.0" fill="#6bc23a" stroke-width="0.9"/>
</g>
<path d="M0.00 540.40 C4.17 538.57 18.67 532.30 25.00 529.40 C31.33 526.50 33.83 524.85 38.00 523.00 C42.17 521.15 46.00 519.63 50.00 518.30 C54.00 516.97 57.83 516.18 62.00 515.00 C66.17 513.82 69.50 513.22 75.00 511.20 C80.50 509.18 89.50 505.27 95.00 502.90 C100.50 500.53 104.12 498.83 108.00 497.00 C111.88 495.17 115.07 493.95 118.30 491.90 C121.53 489.85 124.15 487.08 127.40 484.70 C130.65 482.32 134.33 480.02 137.80 477.60 C141.27 475.18 144.73 472.68 148.20 470.20 C151.67 467.72 155.15 465.15 158.60 462.70 C162.05 460.25 165.45 457.77 168.90 455.50 C172.35 453.23 175.78 451.28 179.30 449.10 C182.82 446.92 186.48 444.67 190.00 442.40 C193.52 440.13 197.15 437.47 200.40 435.50 C203.65 433.53 205.83 432.40 209.50 430.60 C213.17 428.80 218.52 426.65 222.40 424.70 C226.28 422.75 229.55 420.83 232.80 418.90 C236.05 416.97 238.87 414.87 241.90 413.10 C244.93 411.33 247.77 409.88 251.00 408.30 C254.23 406.72 258.07 405.18 261.30 403.60 C264.53 402.02 267.15 400.37 270.40 398.80 C273.65 397.23 277.53 395.57 280.80 394.20 C284.07 392.83 287.13 391.93 290.00 390.60 C292.87 389.27 294.52 388.12 298.00 386.20 C301.48 384.28 306.58 381.20 310.90 379.10 C315.22 377.00 319.57 375.33 323.90 373.60 C328.23 371.87 332.57 370.60 336.90 368.70 C341.23 366.80 345.58 364.37 349.90 362.20 C354.22 360.03 358.48 357.87 362.80 355.70 C367.12 353.53 372.10 350.87 375.80 349.20 C379.50 347.53 382.13 346.78 385.00 345.70 C387.87 344.62 389.52 344.25 393.00 342.70 C396.48 341.15 401.58 338.18 405.90 336.40 C410.22 334.62 414.57 333.45 418.90 332.00 C423.23 330.55 427.57 328.88 431.90 327.70 C436.23 326.52 440.58 325.87 444.90 324.90 C449.22 323.93 453.48 322.77 457.80 321.90 C462.12 321.03 467.43 320.30 470.80 319.70 C474.17 319.10 474.65 318.97 478.00 318.30 C481.35 317.63 486.58 316.57 490.90 315.70 C495.22 314.83 499.57 313.97 503.90 313.10 C508.23 312.23 512.57 311.25 516.90 310.50 C521.23 309.75 525.58 309.12 529.90 308.60 C534.22 308.08 538.48 307.78 542.80 307.40 C547.12 307.02 552.10 306.67 555.80 306.30 C559.50 305.93 562.13 305.60 565.00 305.20 C567.87 304.80 569.52 304.45 573.00 303.90 C576.48 303.35 581.58 302.45 585.90 301.90 C590.22 301.35 594.57 300.93 598.90 300.60 C603.23 300.27 607.57 299.98 611.90 299.90 C616.23 299.82 620.58 300.03 624.90 300.10 C629.22 300.17 633.48 300.22 637.80 300.30 C642.12 300.38 647.10 300.45 650.80 300.60 C654.50 300.75 656.80 300.95 660.00 301.20 C663.20 301.45 666.08 301.65 670.00 302.10 C673.92 302.55 679.32 303.20 683.50 303.90 C687.68 304.60 691.37 305.75 695.10 306.30 C698.83 306.85 702.30 306.93 705.90 307.20 C709.50 307.47 713.40 307.77 716.70 307.90 C720.00 308.03 724.20 307.98 725.70 308.00" fill="none" stroke="#2399c3" stroke-width="2.05" stroke-linejoin="round" stroke-linecap="butt"/>
<path d="M0.00 390.90 C2.00 390.47 8.17 389.00 12.00 388.30 C15.83 387.60 20.00 386.78 23.00 386.70 C26.00 386.62 27.53 387.52 30.00 387.80 C32.47 388.08 35.38 388.20 37.80 388.40 C40.22 388.60 42.35 388.48 44.50 389.00 C46.65 389.52 48.78 390.67 50.70 391.50 C52.62 392.33 54.28 393.38 56.00 394.00 C57.72 394.62 59.33 395.00 61.00 395.20 C62.67 395.40 64.50 395.43 66.00 395.20 C67.50 394.97 68.17 394.37 70.00 393.80 C71.83 393.23 74.00 392.83 77.00 391.80 C80.00 390.77 84.17 389.12 88.00 387.60 C91.83 386.08 95.50 385.13 100.00 382.70 C104.50 380.27 109.53 376.78 115.00 373.00 C120.47 369.22 126.15 364.68 132.80 360.00 C139.45 355.32 148.63 349.52 154.90 344.90 C161.17 340.28 164.55 336.92 170.40 332.30 C176.25 327.68 184.57 321.45 190.00 317.20 C195.43 312.95 199.67 309.12 203.00 306.80 C206.33 304.48 207.78 304.52 210.00 303.30 C212.22 302.08 214.30 301.17 216.30 299.50 C218.30 297.83 220.10 296.03 222.00 293.30 C223.90 290.57 225.82 286.50 227.70 283.10 C229.58 279.70 231.42 276.12 233.30 272.90 C235.18 269.68 237.10 266.48 239.00 263.80 C240.90 261.12 242.80 258.97 244.70 256.80 C246.60 254.63 248.52 252.43 250.40 250.80 C252.28 249.17 253.57 248.20 256.00 247.00 C258.43 245.80 261.95 244.40 265.00 243.60 C268.05 242.80 270.13 242.22 274.30 242.20 C278.47 242.18 286.05 243.33 290.00 243.50 C293.95 243.67 294.52 242.82 298.00 243.20 C301.48 243.58 306.58 244.65 310.90 245.80 C315.22 246.95 319.57 248.65 323.90 250.10 C328.23 251.55 333.00 253.38 336.90 254.50 C340.80 255.62 343.42 256.35 347.30 256.80 C351.18 257.25 355.88 257.63 360.20 257.20 C364.52 256.77 369.07 255.42 373.20 254.20 C377.33 252.98 381.92 250.83 385.00 249.90 C388.08 248.97 389.53 248.63 391.70 248.60 C393.87 248.57 395.63 249.12 398.00 249.70 C400.37 250.28 402.42 251.05 405.90 252.10 C409.38 253.15 415.65 255.53 418.90 256.00 C422.15 256.47 422.80 255.73 425.40 254.90 C428.00 254.07 430.83 251.58 434.50 251.00 C438.17 250.42 443.52 251.40 447.40 251.40 C451.28 251.40 454.87 250.73 457.80 251.00 C460.73 251.27 463.27 252.38 465.00 253.00 C466.73 253.62 466.03 253.48 468.20 254.70 C470.37 255.92 474.22 259.22 478.00 260.30 C481.78 261.38 486.58 260.50 490.90 261.20 C495.22 261.90 499.57 263.92 503.90 264.50 C508.23 265.08 512.57 263.80 516.90 264.70 C521.23 265.60 525.58 267.78 529.90 269.90 C534.22 272.02 538.48 275.07 542.80 277.40 C547.12 279.73 552.10 281.78 555.80 283.90 C559.50 286.02 562.57 288.73 565.00 290.10 C567.43 291.47 567.77 291.18 570.40 292.10 C573.03 293.02 577.57 293.97 580.80 295.60 C584.03 297.23 586.78 299.35 589.80 301.90 C592.82 304.45 595.87 307.98 598.90 310.90 C601.93 313.82 604.97 317.12 608.00 319.40 C611.03 321.68 613.65 322.67 617.10 324.60 C620.55 326.53 624.82 329.28 628.70 331.00 C632.58 332.72 636.72 333.60 640.40 334.90 C644.08 336.20 646.93 337.12 650.80 338.80 C654.67 340.48 659.85 343.00 663.60 345.00 C667.35 347.00 669.95 347.98 673.30 350.80 C676.65 353.62 680.45 358.33 683.70 361.90 C686.95 365.47 690.20 369.50 692.80 372.20 C695.40 374.90 697.35 376.75 699.30 378.10 C701.25 379.45 702.33 379.00 704.50 380.30 C706.67 381.60 709.72 384.28 712.30 385.90 C714.88 387.52 717.78 388.72 720.00 390.00 C722.22 391.28 724.67 393.00 725.60 393.60" fill="none" stroke="#ffcb05" stroke-width="2.25" stroke-linejoin="round" stroke-linecap="butt"/>
<g filter="url(#ga)">
<text x="718.84" y="26.0" fill="#7b7571" textLength="55.03" lengthAdjust="spacingAndGlyphs">10.000,00</text>
<rect x="775" y="21.9" width="4" height="1.2" fill="#000"/>
<text x="726.15" y="68.0" fill="#7b7571" textLength="47.44" lengthAdjust="spacingAndGlyphs">9.800,00</text>
<rect x="775" y="63.9" width="4" height="1.2" fill="#000"/>
<text x="726.15" y="111.0" fill="#7b7571" textLength="47.44" lengthAdjust="spacingAndGlyphs">9.600,00</text>
<rect x="775" y="106.9" width="4" height="1.2" fill="#000"/>
<text x="726.15" y="155.0" fill="#7b7571" textLength="47.44" lengthAdjust="spacingAndGlyphs">9.400,00</text>
<rect x="775" y="150.9" width="4" height="1.2" fill="#000"/>
<text x="726.15" y="200.0" fill="#7b7571" textLength="47.44" lengthAdjust="spacingAndGlyphs">9.200,00</text>
<rect x="775" y="195.9" width="4" height="1.2" fill="#000"/>
<text x="726.15" y="245.0" fill="#7b7571" textLength="47.44" lengthAdjust="spacingAndGlyphs">9.000,00</text>
<rect x="775" y="240.9" width="4" height="1.2" fill="#000"/>
<text x="726.24" y="292.0" fill="#7b7571" textLength="47.35" lengthAdjust="spacingAndGlyphs">8.800,00</text>
<rect x="775" y="287.9" width="4" height="1.2" fill="#000"/>
<text x="726.24" y="340.0" fill="#7b7571" textLength="47.35" lengthAdjust="spacingAndGlyphs">8.600,00</text>
<rect x="775" y="335.9" width="4" height="1.2" fill="#000"/>
<text x="726.24" y="389.0" fill="#7b7571" textLength="47.35" lengthAdjust="spacingAndGlyphs">8.400,00</text>
<rect x="775" y="384.9" width="4" height="1.2" fill="#000"/>
<text x="726.24" y="439.0" fill="#7b7571" textLength="47.35" lengthAdjust="spacingAndGlyphs">8.200,00</text>
<rect x="775" y="434.9" width="4" height="1.2" fill="#000"/>
<text x="726.24" y="490.0" fill="#7b7571" textLength="47.35" lengthAdjust="spacingAndGlyphs">8.000,00</text>
<rect x="775" y="485.9" width="4" height="1.2" fill="#000"/>
<text x="726.19" y="543.0" fill="#7b7571" textLength="47.40" lengthAdjust="spacingAndGlyphs">7.800,00</text>
<rect x="775" y="538.9" width="4" height="1.2" fill="#000"/>
<text x="726.19" y="597.0" fill="#7b7571" textLength="47.40" lengthAdjust="spacingAndGlyphs">7.600,00</text>
<rect x="775" y="592.9" width="4" height="1.2" fill="#000"/>
<rect x="26.95" y="612.8" width="1.1" height="4.2" fill="#000"/>
<rect x="106.95" y="612.8" width="1.1" height="4.2" fill="#000"/>
<rect x="172.95" y="612.8" width="1.1" height="4.2" fill="#000"/>
<rect x="248.95" y="612.8" width="1.1" height="4.2" fill="#000"/>
<rect x="318.95" y="612.8" width="1.1" height="4.2" fill="#000"/>
<rect x="384.95" y="612.8" width="1.1" height="4.2" fill="#000"/>
<rect x="460.95" y="612.8" width="1.1" height="4.2" fill="#000"/>
<rect x="533.95" y="612.8" width="1.1" height="4.2" fill="#000"/>
<rect x="603.95" y="612.8" width="1.1" height="4.2" fill="#000"/>
<rect x="679.95" y="612.8" width="1.1" height="4.2" fill="#000"/>
<path d="M708 404.4L716.5 396H780V412.7H716.5Z" fill="#dcdcdc"/>
<g stroke="#c4c4c4" stroke-width="1" fill="none">
<path d="M7.5 14V17.4M11.5 7.4V11M11.5 15.8V17.4M15.6 9.4V13.5"/>
<rect x="6.3" y="9.6" width="2.5" height="4.3"/><rect x="10.3" y="11.1" width="2.5" height="4.7"/><rect x="14.3" y="13.6" width="2.6" height="3.8"/></g>
<circle cx="12.4" cy="28.3" r="5" fill="none" stroke="#111" stroke-width="1.1"/><path d="M12.4 25.2V28.3L14.7 30.3" fill="none" stroke="#111" stroke-width="1.2" stroke-linejoin="round"/>
<rect x="7" y="43.8" width="9.6" height="2.9" rx="0.8" fill="#ffc800"/>
<rect x="7" y="59.8" width="9.6" height="2.9" rx="0.8" fill="#2e9cc9"/>
<text x="22.94" y="16.8" fill="#c4c4c4" textLength="23.60" lengthAdjust="spacingAndGlyphs">Dow</text>
<text x="50.15" y="16.8" fill="#c4c4c4" textLength="34.21" lengthAdjust="spacingAndGlyphs">Jones</text>
<text x="88.91" y="16.8" fill="#c4c4c4" textLength="78.83" lengthAdjust="spacingAndGlyphs">Transportation</text>
<text x="169.79" y="16.8" fill="#c4c4c4" textLength="25.87" lengthAdjust="spacingAndGlyphs">Aver.</text>
<text x="198.24" y="16.8" fill="#c4c4c4" textLength="31.34" lengthAdjust="spacingAndGlyphs">(Last,</text>
<text x="231.03" y="16.8" fill="#c4c4c4" textLength="26.53" lengthAdjust="spacingAndGlyphs">XXP)</text>
<text x="264.35" y="16.8" fill="#c4c4c4" textLength="11.74" lengthAdjust="spacingAndGlyphs">O:</text>
<text x="279.34" y="16.8" fill="#c4c4c4" textLength="47.24" lengthAdjust="spacingAndGlyphs">8.262,76</text>
<text x="332.45" y="16.8" fill="#c4c4c4" textLength="12.93" lengthAdjust="spacingAndGlyphs">H:</text>
<text x="348.04" y="16.8" fill="#c4c4c4" textLength="47.75" lengthAdjust="spacingAndGlyphs">8.353,26</text>
<text x="401.71" y="16.8" fill="#c4c4c4" textLength="11.16" lengthAdjust="spacingAndGlyphs">L:</text>
<text x="415.14" y="16.8" fill="#c4c4c4" textLength="47.31" lengthAdjust="spacingAndGlyphs">8.258,44</text>
<text x="469.22" y="16.8" fill="#c4c4c4" textLength="12.74" lengthAdjust="spacingAndGlyphs">C:</text>
<text x="483.84" y="16.8" fill="#c4c4c4" textLength="47.73" lengthAdjust="spacingAndGlyphs">8.323,01</text>
<text x="23.21" y="32.8" fill="#111" textLength="61.23" lengthAdjust="spacingAndGlyphs">19.09.2014</text>
<text x="89.36" y="32.8" fill="#111" textLength="2.98" lengthAdjust="spacingAndGlyphs">-</text>
<text x="95.27" y="32.8" fill="#111" textLength="61.07" lengthAdjust="spacingAndGlyphs">21.07.2015</text>
<text x="160.05" y="32.8" fill="#111" textLength="31.00" lengthAdjust="spacingAndGlyphs">(EDT,</text>
<text x="192.69" y="32.8" fill="#111" textLength="13.80" lengthAdjust="spacingAndGlyphs">10</text>
<text x="209.82" y="32.8" fill="#111" textLength="43.71" lengthAdjust="spacingAndGlyphs">Monate,</text>
<text x="255.93" y="32.8" fill="#111" textLength="5.29" lengthAdjust="spacingAndGlyphs">1</text>
<text x="265.71" y="32.8" fill="#111" textLength="24.43" lengthAdjust="spacingAndGlyphs">Tag)</text>
<text x="22.80" y="48.8" fill="#ffc400" textLength="45.89" lengthAdjust="spacingAndGlyphs">SMA(50)</text>
<text x="75.34" y="48.8" fill="#ffc400" textLength="47.72" lengthAdjust="spacingAndGlyphs">8.365,13</text>
<text x="22.80" y="64.8" fill="#2e9cc9" textLength="52.75" lengthAdjust="spacingAndGlyphs">SMA(200)</text>
<text x="82.24" y="64.8" fill="#2e9cc9" textLength="47.24" lengthAdjust="spacingAndGlyphs">8.716,82</text>
<text x="18.22" y="608.7" fill="#7b7571" textLength="18.21" lengthAdjust="spacingAndGlyphs">Okt</text>
<text x="96.82" y="608.7" fill="#7b7571" textLength="21.49" lengthAdjust="spacingAndGlyphs">Nov</text>
<text x="162.69" y="608.7" fill="#7b7571" textLength="22.02" lengthAdjust="spacingAndGlyphs">Dez</text>
<text x="229.88" y="608.7" fill="#7b7571" textLength="38.75" lengthAdjust="spacingAndGlyphs">Jan &#x27;15</text>
<text x="308.71" y="608.7" fill="#7b7571" textLength="20.98" lengthAdjust="spacingAndGlyphs">Feb</text>
<text x="374.84" y="608.7" fill="#7b7571" textLength="20.34" lengthAdjust="spacingAndGlyphs">Mär</text>
<text x="451.98" y="608.7" fill="#7b7571" textLength="18.15" lengthAdjust="spacingAndGlyphs">Apr</text>
<text x="524.81" y="608.7" fill="#7b7571" textLength="19.72" lengthAdjust="spacingAndGlyphs">Mai</text>
<text x="593.76" y="608.7" fill="#7b7571" textLength="20.39" lengthAdjust="spacingAndGlyphs">Jun</text>
<text x="672.06" y="608.7" fill="#7b7571" textLength="16.20" lengthAdjust="spacingAndGlyphs">Jul</text>
<text x="722.94" y="408.7" fill="#333" textLength="47.42" lengthAdjust="spacingAndGlyphs">8.323,01</text>
</g>
</svg></body></html>
